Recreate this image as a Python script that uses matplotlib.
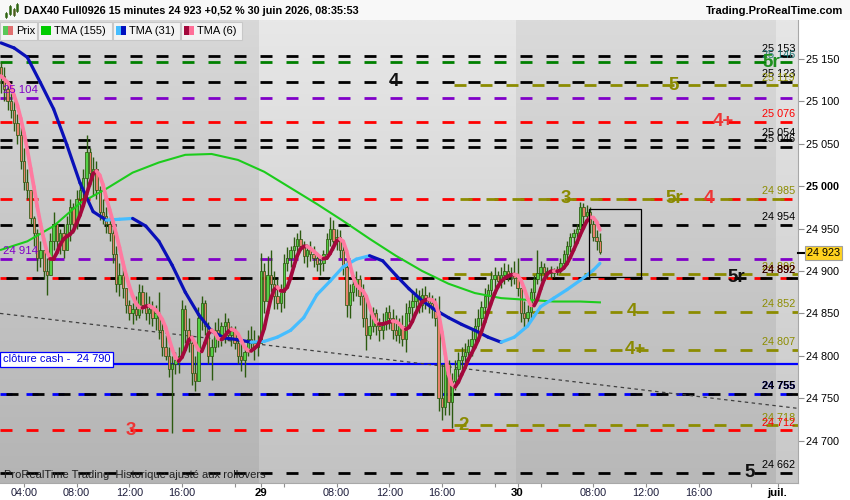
import numpy as np
import pandas as pd
import matplotlib
matplotlib.use("Agg")
import matplotlib.pyplot as plt
from matplotlib.patches import Rectangle

plt.rcParams['font.family'] = ['Liberation Sans', 'DejaVu Sans']
plt.rcParams['lines.scale_dashes'] = False

# 15 minute bars, index 0 = 28 juin 02:15, last bar = 30 juin 08:30
first_open = 25140
closes = [
    25130, 25115, 25100, 25090, 25075, 25060, 25030, 25005, 24995, 24962,
    24945, 24915, 24925, 24900, 24895, 24935, 24955, 24935, 24945, 24925,
    24955, 24975, 24955, 24985, 24995, 25010, 25040, 25015, 25020, 24995,
    24970, 24965, 24955, 24945, 24920, 24885, 24895, 24880, 24860, 24850,
    24855, 24848, 24875, 24860, 24850, 24855, 24845, 24850, 24830, 24810,
    24800, 24785, 24790, 24795, 24800, 24855, 24830, 24815, 24780, 24770,
    24845, 24862, 24835, 24800, 24810, 24830, 24820, 24835, 24840, 24825,
    24830, 24815, 24800, 24795, 24805, 24820, 24815, 24810, 24815,
    # 29
    24900, 24865, 24895, 24885, 24870, 24862, 24875, 24910, 24915, 24925,
    24930, 24938, 24930, 24918, 24925, 24920, 24915, 24908, 24910, 24920,
    24938, 24950, 24935, 24940, 24925, 24905, 24860, 24875, 24885, 24890,
    24870, 24845, 24825, 24835, 24850, 24835, 24830, 24840, 24852, 24845,
    24830, 24825, 24835, 24820, 24850, 24858, 24865, 24870, 24860, 24872,
    24868, 24862, 24855, 24845, 24750, 24740, 24790, 24745, 24770, 24785,
    24795, 24800, 24805, 24812, 24820, 24835, 24845, 24858, 24870, 24878,
    24890, 24895, 24888, 24895, 24900, 24895, 24898, 24892,
    # 30
    24880, 24850, 24845, 24852, 24875, 24890, 24898, 24905, 24898, 24900,
    24898, 24900, 24902, 24910, 24920, 24930, 24940, 24945, 24950, 24975,
    24965, 24970, 24955, 24940, 24935, 24923,
]
highs = [
    25146, 25140, 25120, 25110, 25100, 25085, 25070, 25045, 25020, 24990,
    24965, 24950, 24935, 24925, 24915, 24945, 24970, 24955, 24950, 24955,
    24965, 24985, 24980, 24995, 25005, 25020, 25060, 25045, 25035, 25030,
    25000, 24985, 24975, 24965, 24955, 24930, 24910, 24905, 24880, 24866,
    24862, 24870, 24885, 24883, 24875, 24870, 24865, 24860, 24875, 24840,
    24825, 24810, 24800, 24805, 24810, 24866, 24860, 24845, 24820, 24800,
    24858, 24870, 24866, 24840, 24820, 24840, 24845, 24840, 24850, 24845,
    24835, 24835, 24825, 24815, 24810, 24830, 24835, 24830, 24825,
    24921, 24910, 24918, 24925, 24900, 24890, 24885, 24920, 24928, 24930,
    24940, 24945, 24948, 24935, 24930, 24935, 24930, 24920, 24915, 24925,
    24945, 24964, 24960, 24950, 24948, 24935, 24915, 24885, 24895, 24900,
    24895, 24885, 24870, 24850, 24858, 24855, 24845, 24850, 24858, 24860,
    24855, 24848, 24845, 24848, 24862, 24866, 24875, 24880, 24878, 24880,
    24882, 24875, 24872, 24868, 24870, 24790, 24800, 24795, 24780, 24795,
    24805, 24810, 24815, 24820, 24830, 24845, 24855, 24865, 24880, 24885,
    24900, 24905, 24900, 24905, 24910, 24908, 24905, 24912,
    24915, 24880, 24865, 24860, 24880, 24895, 24925, 24912, 24910, 24905,
    24906, 24904, 24906, 24915, 24925, 24935, 24945, 24950, 24955, 24981,
    24980, 24978, 24975, 24960, 24948, 24945,
]
lows = [
    25110, 25100, 25090, 25080, 25065, 25050, 25020, 24995, 24985, 24955,
    24930, 24900, 24905, 24890, 24872, 24900, 24925, 24925, 24920, 24915,
    24930, 24935, 24945, 24950, 24970, 24980, 24995, 25000, 24990, 24985,
    24960, 24955, 24945, 24935, 24910, 24875, 24870, 24868, 24850, 24842,
    24838, 24842, 24845, 24850, 24842, 24838, 24835, 24830, 24820, 24800,
    24795, 24775, 24709, 24778, 24780, 24800, 24815, 24805, 24765, 24758,
    24770, 24830, 24825, 24790, 24772, 24805, 24810, 24812, 24815, 24820,
    24812, 24808, 24790, 24782, 24775, 24800, 24805, 24795, 24800,
    24860, 24850, 24855, 24875, 24855, 24855, 24852, 24856, 24900, 24905,
    24915, 24920, 24925, 24910, 24905, 24912, 24905, 24900, 24895, 24900,
    24915, 24930, 24925, 24925, 24915, 24895, 24846, 24845, 24865, 24870,
    24860, 24834, 24807, 24820, 24828, 24825, 24818, 24820, 24830, 24832,
    24820, 24818, 24815, 24812, 24805, 24840, 24845, 24850, 24850, 24852,
    24855, 24850, 24845, 24835, 24735, 24724, 24730, 24730, 24715, 24760,
    24775, 24780, 24790, 24795, 24800, 24815, 24825, 24835, 24845, 24858,
    24860, 24875, 24880, 24880, 24885, 24888, 24882, 24885,
    24870, 24840, 24834, 24838, 24845, 24862, 24885, 24888, 24890, 24892,
    24892, 24893, 24895, 24898, 24905, 24912, 24922, 24930, 24935, 24948,
    24955, 24960, 24945, 24935, 24925, 24920,
]

# TMA (31), read every 4 bars
tma31_bars = list(range(0, 181, 4)) + [182]
tma31 = [25169, 25163, 25152, 25122, 25091, 25049, 25004, 24970, 24960, 24961,
         24962, 24953, 24935, 24907, 24875, 24849, 24829, 24821, 24819, 24816,
         24817, 24822, 24830, 24845, 24872, 24888, 24905, 24914, 24918, 24912,
         24895, 24879, 24865, 24854, 24845, 24837, 24830, 24822, 24816, 24822,
         24835, 24858, 24868, 24878, 24889, 24901, 24909]
# TMA (155), read every 8 bars
tma155_bars = list(range(0, 177, 8)) + [182]
tma155 = [24925, 24935, 24953, 24980, 24997, 25016, 25028, 25037, 25038, 25031,
          25017, 24998, 24979, 24959, 24938, 24918, 24900, 24885, 24874, 24868,
          24866, 24864, 24864, 24863]

# horizontal levels
level_prices = [25153, 25146, 25123, 25119, 25104, 25076, 25054, 25046, 24985, 24985,
                24954, 24914, 24896, 24892, 24892, 24852, 24807, 24755, 24755, 24718,
                24712, 24662]
level_colors = ['black', 'green', 'black', 'olive', 'purple', 'red', 'black', 'black', 'red', 'olive',
                'black', 'purple', 'olive', 'red', 'black', 'olive', 'olive', 'blue', 'black', 'olive',
                'red', 'black']
right_labels = [25153, 25146, 25123, 25119, 25076, 25054, 25046, 24985, 24954, 24896,
                24892, 24892, 24852, 24807, 24755, 24755, 24718, 24712, 24662]
right_label_colors = ['black', 'teal', 'black', 'olive', 'red', 'black', 'black', 'olive', 'black', 'olive',
                      'red', 'black', 'olive', 'olive', 'blue', 'black', 'olive', 'red', 'black']
left_labels = [25104, 24914]
cash_close = 24790

zone_texts = ['5r', '5', '4', '4+', '5r', '4', '3', '5r', '4', '4+', '2', '3', '5']
zone_prices = [25146, 25119, 25123, 25076, 24985, 24985, 24985, 24892, 24852, 24807, 24718, 24712, 24662]
zone_bars = [234, 204.5, 119.5, 219.5, 204.5, 215, 171.5, 223.5, 191.8, 192.7, 140.7, 39.5, 227.4]
zone_colors = ['green', 'olive', 'black', 'red', 'olive', 'red', 'olive', 'black', 'olive', 'olive', 'olive', 'red', 'black']

trend_bars = [-0.3, 242.2]
trend_prices = [24850, 24738]
box_bars = [178.7, 194.5]
box_prices = [24893, 24973]

session_start = [0, 79, 157, 236]
session_label = ['', '29', '30', 'juil.']

last_price = 24923

palette = {'black': '#000000', 'green': '#008000', 'olive': '#8c8c00', 'purple': '#8000c8',
           'red': '#ff0000', 'blue': '#0000ff', 'teal': '#207878'}
zone_palette = {'black': '#111111', 'green': '#1f8f1f', 'olive': '#8a8a00', 'red': '#ee3535'}

W, H = 850, 500
fig = plt.figure(figsize=(8.5, 5), dpi=100)
fig.patch.set_facecolor('white')


def fx(px):
    return px / W


def fy(py):
    return 1 - py / H


ax = fig.add_axes([0, fy(483), fx(798), (483 - 20) / H])
ax.set_xlim(-0.3, 242.2)
ax.set_ylim(24650, 25196)

# background bands (one shade per day, lighter at the top)
bands = [(-0.3, 78.5, '#d8d8d8', '#b4b4b4'), (78.5, 156.5, '#e8e8e8', '#c2c2c2'),
         (156.5, 235.5, '#dadada', '#b8b8b8'), (235.5, 242.2, '#e6e6e6', '#c8c8c8')]
for x0, x1, top, bot in bands:
    t = np.array(matplotlib.colors.to_rgb(top))
    b = np.array(matplotlib.colors.to_rgb(bot))
    grad = np.linspace(0, 1, 128)[:, None, None] * (b - t) + t
    ax.imshow(grad, extent=[x0, x1, 24650, 25196], aspect='auto', zorder=0, interpolation='bilinear')

# levels
px2pt = 0.72
dash = (12 * px2pt, 14 * px2pt)
olive_start = 137.7
seen = set()
for p, c in zip(level_prices, level_colors):
    x0 = olive_start if c == 'olive' else -0.3
    offset = 20 * px2pt if p in seen else 0
    seen.add(p)
    ax.plot([x0, 242.2], [p, p], color=palette[c], lw=2.0,
            linestyle=(offset, dash), zorder=1.5)

ax.axhline(cash_close, color='#0000ff', lw=1.6, zorder=1.6)
ax.plot(trend_bars, trend_prices, color='#404040', lw=0.9, linestyle=(0, (2.5, 2.5)), zorder=1.7)

# candles
opens = [first_open] + closes[:-1]
xs = np.arange(len(closes))
o = np.array(opens, float)
c = np.array(closes, float)
hi = np.maximum(np.array(highs, float), np.maximum(o, c))
lo = np.minimum(np.array(lows, float), np.minimum(o, c))
outline = '#2c5a10'
ax.vlines(xs, lo, hi, color=outline, lw=1.0, zorder=2.5)
body_col = ['#55d045' if cc >= oo else '#e8826c' for oo, cc in zip(o, c)]
ax.bar(xs, np.maximum(np.abs(c - o), 1.0), bottom=np.minimum(o, c), width=0.72,
       color=body_col, edgecolor=outline, linewidth=0.55, zorder=3)


def slope_line(xv, yv, up, down, lw, z):
    # each step coloured by its direction
    for i in range(len(yv) - 1):
        col = up if yv[i + 1] >= yv[i] else down
        ax.plot([xv[i], xv[i + 1]], [yv[i], yv[i + 1]], color=col, lw=lw,
                solid_capstyle='round', zorder=z)


ax.plot(tma155_bars, tma155, color='#1ccc1c', lw=1.5, zorder=4)
slope_line(tma31_bars, tma31, '#45bdff', '#0a10b8', 2.3, 4.2)
s = pd.Series(closes, dtype=float)
tma6 = s.rolling(3, min_periods=1).mean().rolling(4, min_periods=1).mean()
slope_line(list(xs), list(tma6.values), '#a3083c', '#ff7aa0', 2.7, 4.4)

ax.add_patch(Rectangle((box_bars[0], box_prices[0]), box_bars[1] - box_bars[0],
                       box_prices[1] - box_prices[0], fill=False, ec='black', lw=0.9, zorder=5))

# level values on the right
for p, col in zip(right_labels, right_label_colors):
    bold = p == 24755
    ax.annotate(f'{p:,}'.replace(',', ' '), (231.4, p), xytext=(0, 2), textcoords='offset points',
                ha='left', va='bottom', fontsize=7.8, color=palette[col],
                fontweight='bold' if bold else 'normal', zorder=6)
for p in left_labels:
    ax.annotate(f'{p:,}'.replace(',', ' '), (0.5, p), xytext=(0, 2), textcoords='offset points',
                ha='left', va='bottom', fontsize=8.2, color='#8000c8', zorder=6)

for t, p, b, col in zip(zone_texts, zone_prices, zone_bars, zone_colors):
    ax.text(b, p, t, ha='center', va='center', fontsize=13.5, fontweight='bold',
            color=zone_palette[col], zorder=6)

ax.text(0.6, cash_close, f'clôture cash -  {cash_close:,}'.replace(',', ' '), ha='left',
        va='bottom', fontsize=8, color='#0000e0', zorder=7,
        bbox=dict(boxstyle='square,pad=0.25', fc='white', ec='#0000ff', lw=0.9))
ax.text(0.8, 24653, 'ProRealTime Trading  Historique ajusté aux rollovers', ha='left',
        va='bottom', fontsize=8, color='#202020', zorder=7)

# axes
for side in ['left', 'top']:
    ax.spines[side].set_visible(False)
ax.spines['right'].set_color('#a8a8a8')
ax.spines['bottom'].set_color('#a8a8a8')
ax.yaxis.tick_right()
yt = list(range(24700, 25151, 50))
ax.set_yticks(yt)
ax.set_yticklabels([f'{v:,}'.replace(',', ' ') for v in yt], fontsize=7.8)
for lab, v in zip(ax.get_yticklabels(), yt):
    if v == 25000:
        lab.set_fontweight('bold')
ax.tick_params(axis='y', length=4, color='#909090', pad=2)

tick_pos, tick_lab = [], []
for i, start in enumerate(session_start[:3]):
    for h in [4, 8, 12, 16, 20]:
        tick_pos.append(start + (h - 2.25) * 4)
        shown = (h < 20) and not (h == 4 and i > 0)
        tick_lab.append(f'{h:02d}:00' if shown else '')
for start, lab in zip(session_start[1:], session_label[1:]):
    tick_pos.append(start)
    tick_lab.append(lab)
ax.set_xticks(tick_pos)
ax.set_xticklabels(tick_lab, fontsize=7.8, color='#1c1c3a')
for lab in ax.get_xticklabels():
    if lab.get_text() in session_label:
        lab.set_fontweight('bold')
        lab.set_fontsize(8.2)
        lab.set_color('black')
ax.tick_params(axis='x', length=3, color='#909090', pad=0.5)

fig.text(fx(807), fy(253), f'{last_price:,}'.replace(',', ' '), fontsize=7.8, va='center', ha='left',
         bbox=dict(boxstyle='square,pad=0.2', fc='#ffd21f', ec='#a0a0a0', lw=0.8))
fig.add_artist(plt.Line2D([fx(798), fx(804)], [fy(253), fy(253)], color='black', lw=1.5))

# title bar and legend
fig.add_artist(Rectangle((0, fy(20)), 1, 20 / H, transform=fig.transFigure, fc='#f8f8f8', ec='none'))
fig.text(fx(24), fy(11), 'DAX40 Full0926 15 minutes 24 923 +0,52 % 30 juin 2026, 08:35:53',
         fontsize=7.8, fontweight='bold', va='center', ha='left')
fig.text(fx(843), fy(11), 'Trading.ProRealTime.com', fontsize=8, fontweight='bold', va='center', ha='right')
for cx, top, bot, col in [(6, 13, 17, '#4aa02c'), (10, 6, 14, '#4aa02c'), (14, 9, 15, '#e08070'), (17, 4, 11, '#4aa02c')]:
    fig.add_artist(plt.Line2D([fx(cx), fx(cx)], [fy(top - 1), fy(bot + 1)], color='#2c5a10', lw=0.6))
    fig.add_artist(Rectangle((fx(cx - 1.2), fy(bot)), 2.4 / W, (bot - top) / H, transform=fig.transFigure,
                             fc=col, ec='#2c5a10', lw=0.4))

legend = [(0, 37, 'Prix', ['#58c858', '#e07070']), (38, 112, 'TMA (155)', ['#00cc00', '#00cc00']),
          (113, 180, 'TMA (31)', ['#45bdff', '#0010c0']), (181, 242, 'TMA (6)', ['#a3083c', '#ff6f98'])]
for x0, x1, name, cols in legend:
    fig.add_artist(Rectangle((fx(x0), fy(40)), (x1 - x0) / W, 18 / H, transform=fig.transFigure,
                             fc='#f3f3f3', ec='#c8c8c8', lw=0.8))
    fig.add_artist(Rectangle((fx(x0 + 3), fy(35)), 5 / W, 9 / H, transform=fig.transFigure, fc=cols[0], ec='none'))
    fig.add_artist(Rectangle((fx(x0 + 8), fy(35)), 5 / W, 9 / H, transform=fig.transFigure, fc=cols[1], ec='none'))
    fig.text(fx(x0 + 16), fy(31), name, fontsize=8, va='center', ha='left')

fig.savefig('out.png', dpi=100)
